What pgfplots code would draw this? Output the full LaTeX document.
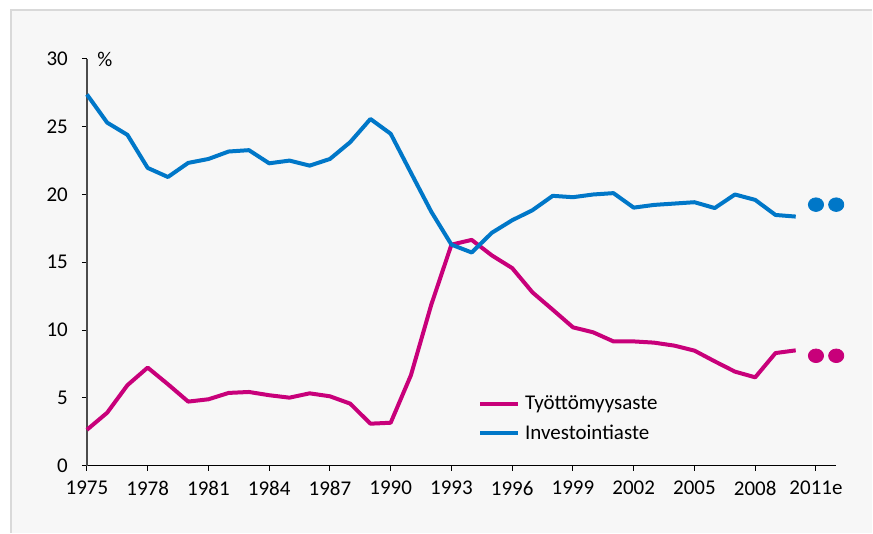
\documentclass[border=0pt]{standalone}
\usepackage{fontspec}
\setmainfont{Carlito}
\usepackage{pgfplots}
\pgfplotsset{compat=1.18}
\definecolor{pinkc}{HTML}{C8007A}
\definecolor{bluec}{HTML}{0077C8}
\definecolor{panel}{HTML}{F7F7F7}
\definecolor{framec}{HTML}{D9D9D9}
\begin{document}
\begin{tikzpicture}
\fill[white] (0,0) rectangle (436.5pt,-266.5pt);
\fill[panel] (5.5pt,-5pt) rectangle (436.5pt,-266.5pt);
\draw[framec, line width=0.8pt] (5.5pt,-266.5pt) -- (5.5pt,-5pt) -- (436.5pt,-5pt);
\begin{axis}[
  at={(43.5pt,-233pt)}, anchor=south west,
  scale only axis, width=375pt, height=203.5pt,
  xmin=1975, xmax=2012, ymin=0, ymax=30,
  axis x line*=bottom, axis y line*=left,
  x axis line style={-, black, line width=0.6pt},
  y axis line style={-, black!70, line width=0.6pt},
  xtick={1975,1978,...,2011},
  xticklabels={1975,1978,1981,1984,1987,1990,1993,1996,1999,2002,2005,2008,2011e},
  ytick={0,5,...,30},
  tick align=outside, major tick length=2.5pt,
  tick style={black, line width=0.5pt},
  xticklabel style={yshift=-1.8pt},
  yticklabel style={xshift=-3.5pt},
  /pgf/number format/assume math mode=true,
  /pgf/number format/set thousands separator={},
  font=\fontsize{10.5}{12.5}\selectfont,
  clip=false,
  legend style={draw=none, fill=none, at={(axis cs:1994.3,5.55)}, anchor=north west,
    inner sep=0pt, row sep=1pt, font=\fontsize{10.5}{12.5}\selectfont,
    nodes={inner sep=2.5pt}},
  legend cell align=left,
  legend image code/.code={\draw[#1, line width=2pt] (0pt,0pt) -- (19pt,0pt);},
]
\addplot[pinkc, line width=2pt, line join=round] coordinates {
(1975,2.64)(1976,3.9)(1977,5.93)(1978,7.23)(1979,6.0)(1980,4.72)(1981,4.89)(1982,5.36)
(1983,5.43)(1984,5.19)(1985,5.01)(1986,5.33)(1987,5.11)(1988,4.57)(1989,3.09)(1990,3.16)
(1991,6.67)(1992,11.85)(1993,16.3)(1994,16.65)(1995,15.5)(1996,14.57)(1997,12.78)(1998,11.5)
(1999,10.2)(2000,9.83)(2001,9.16)(2002,9.16)(2003,9.07)(2004,8.85)(2005,8.48)(2006,7.69)
(2007,6.93)(2008,6.51)(2009,8.3)(2010,8.5)};
\addlegendentry{Työttömyysaste}
\addplot[bluec, line width=2pt, line join=round] coordinates {
(1975,27.38)(1976,25.3)(1977,24.4)(1978,21.96)(1979,21.29)(1980,22.33)(1981,22.62)(1982,23.17)
(1983,23.27)(1984,22.3)(1985,22.5)(1986,22.13)(1987,22.62)(1988,23.86)(1989,25.57)(1990,24.48)
(1991,21.6)(1992,18.74)(1993,16.3)(1994,15.72)(1995,17.18)(1996,18.1)(1997,18.84)(1998,19.9)
(1999,19.8)(2000,20.0)(2001,20.1)(2002,19.03)(2003,19.23)(2004,19.33)(2005,19.43)(2006,19.0)
(2007,20.0)(2008,19.6)(2009,18.49)(2010,18.37)};
\addlegendentry{Investointiaste}
\addplot[only marks, mark=*, mark size=3.4pt, mark options={xscale=1.12, draw=pinkc, fill=pinkc}, forget plot]
  coordinates {(2011,8.1)(2012,8.1)};
\addplot[only marks, mark=*, mark size=3.4pt, mark options={xscale=1.12, draw=bluec, fill=bluec}, forget plot]
  coordinates {(2011,19.25)(2012,19.25)};
\node[anchor=west, inner sep=0pt, xshift=5pt] at (axis cs:1975,30) {\%};
\end{axis}
\end{tikzpicture}
\end{document}
